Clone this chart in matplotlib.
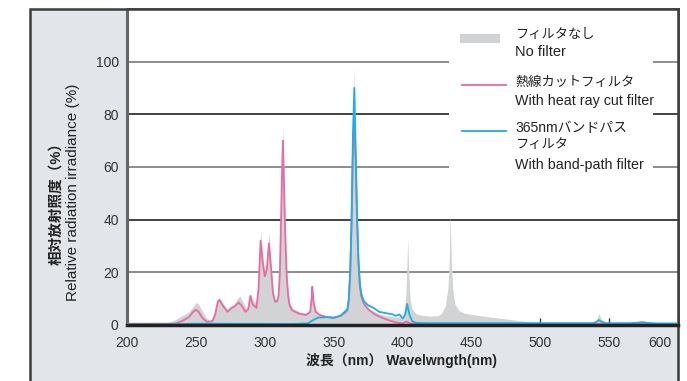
import matplotlib.pyplot as plt
import matplotlib.transforms as mtransforms
from matplotlib.patches import Rectangle

plt.rcParams['font.family'] = ['Liberation Sans', 'Noto Sans CJK JP']

# no filter (grey area)
wl_nf = [200, 215, 230, 235, 240, 245, 248, 250, 252, 255, 258, 260, 263, 265, 267, 270,
         273, 275, 278, 280, 282, 285, 287, 289, 290, 292, 294, 295.5, 297, 298.5, 300, 301.5,
         303, 304.5, 306, 307.5, 309, 310, 311, 312, 312.5, 313.2, 314, 315, 316, 317, 318, 320,
         325, 330, 333, 334, 334.5, 335.5, 337, 340, 345, 350, 355, 358, 360, 361, 362, 363,
         364, 365, 366, 367, 368, 369, 370, 371, 373, 376, 380, 383, 390, 395, 400, 401.5,
         402.5, 403.2, 403.8, 404.5, 405.5, 407, 410, 415, 420, 425, 428, 431, 433, 434, 434.6, 435.5,
         436.5, 438, 441, 445, 450, 460, 470, 480, 490, 500, 520, 538, 541, 542.5, 544, 547,
         555, 572, 575, 580, 600]
nf = [0.3, 0.3, 1.0, 2.0, 3.5, 5.0, 7.0, 8.5, 8.0, 5.0, 2.5, 1.5, 3.0, 8.0, 10.5, 8.0,
      6.0, 7.0, 8.0, 10.0, 11.0, 8.0, 6.0, 10.0, 12.0, 9.0, 8.5, 16.0, 36.0, 26.0, 20.0, 24.0,
      35.0, 24.0, 13.0, 9.5, 10.0, 12.0, 22.0, 48.0, 62.0, 76.0, 58.0, 35.0, 20.0, 13.0, 9.0, 6.5,
      5.0, 4.5, 5.5, 10.0, 15.0, 9.0, 5.5, 4.0, 3.0, 2.7, 3.5, 5.0, 7.0, 12.0, 22.0, 42.0,
      72.0, 98.0, 72.0, 45.0, 26.0, 17.0, 13.0, 10.5, 8.0, 6.0, 5.0, 4.2, 3.4, 3.0, 3.2, 6.0,
      12.0, 22.0, 33.0, 20.0, 10.0, 6.0, 4.2, 3.6, 3.4, 3.5, 4.2, 7.0, 14.0, 25.0, 43.0, 24.0,
      14.0, 8.0, 5.5, 4.5, 4.0, 3.3, 2.6, 2.0, 1.3, 0.7, 0.5, 0.6, 2.0, 4.4, 2.5, 1.0,
      0.6, 0.6, 1.0, 0.8, 0.5]

# heat ray cut filter (pink)
wl_hc = [200, 235, 240, 245, 248, 250, 252, 255, 258, 262, 264, 266, 267, 270, 273, 276,
         278, 281, 283, 286, 288, 289.5, 291, 293, 294, 295.5, 297, 298.5, 300, 301.5, 303, 304.5,
         306, 307.5, 309, 310, 311, 312, 312.5, 313.2, 314, 315, 316, 317, 318, 320, 325, 330,
         333, 334, 334.5, 335.5, 337, 340, 345, 350, 355, 358, 360, 361, 362, 363, 364, 365,
         366, 367, 368, 369, 370, 372, 375, 380, 385, 390, 395, 400, 403, 405, 410, 600]
hc = [0.5, 0.5, 1.5, 3.0, 5.0, 5.8, 5.0, 2.5, 1.2, 1.5, 4.0, 9.0, 9.5, 7.0, 5.0, 6.5,
      7.0, 8.5, 7.5, 5.0, 6.0, 11.0, 8.0, 7.0, 6.5, 14.0, 32.0, 24.0, 18.5, 21.0, 31.0, 22.0,
      12.0, 8.8, 9.0, 11.0, 20.0, 44.0, 57.0, 70.0, 53.0, 32.0, 18.0, 11.0, 7.6, 5.5, 4.3, 3.8,
      5.0, 10.0, 14.5, 8.5, 5.0, 3.8, 3.0, 2.7, 3.5, 4.5, 5.5, 9.0, 19.0, 37.0, 65.0, 79.0,
      62.0, 40.0, 24.0, 15.0, 11.0, 8.0, 6.0, 4.0, 2.8, 1.8, 1.0, 0.6, 1.3, 0.7, 0.4, 0.4]

# 365nm band-pass filter (blue)
wl_bp = [200, 235, 250, 320, 331, 335, 338.5, 345, 350, 355, 357, 360, 361, 362, 363, 364,
         365, 366, 367, 368, 369, 370, 372, 375, 379, 383, 388, 393, 395, 397.8, 400.2, 402,
         403.4, 405, 407, 410, 420, 538, 541, 542.5, 544.5, 548, 565, 571, 574, 578, 585, 600]
bp = [0.2, 0.3, 0.5, 0.4, 0.6, 1.8, 2.8, 3.0, 2.8, 3.5, 4.5, 6.0, 10.0, 20.0, 40.0, 72.0,
      90.0, 66.0, 42.0, 25.0, 16.0, 12.0, 9.0, 7.5, 6.5, 5.0, 4.5, 4.0, 3.5, 4.0, 2.5, 4.0,
      8.0, 4.0, 1.5, 0.8, 0.7, 0.7, 1.2, 1.9, 1.2, 0.7, 0.7, 0.9, 1.1, 0.8, 0.6, 0.6]

x_ticks = [200, 250, 300, 350, 400, 450, 500, 550, 600]
y_ticks = [0, 20, 40, 60, 80, 100]

W, H = 687, 381
fig = plt.figure(figsize=(W / 100, H / 100), dpi=100)
fig.patch.set_facecolor('white')

# grey panel behind the chart
panel = Rectangle((30 / W, -0.1), (678 - 30) / W, 1.1 - 9 / H, transform=fig.transFigure,
                  facecolor='#e2e6eb', edgecolor='#3c3c3c', lw=1.8, zorder=-10)
fig.patches.append(panel)

ax = fig.add_axes([127 / W, 1 - 325 / H, (678 - 127) / W, (325 - 9) / H])
ax.set_facecolor('white')

grid_cols = {20: '#7a7a7a', 40: '#222222', 60: '#7a7a7a', 80: '#222222', 100: '#7a7a7a'}
for yv, c in grid_cols.items():
    ax.axhline(yv, color=c, lw=1.2, zorder=1)

ax.fill_between(wl_nf, nf, color='#d1d3d4', lw=0, zorder=2)
ax.plot(wl_hc, hc, color='#ea6aa2', lw=1.3, zorder=3)
ax.plot(wl_bp, bp, color='#1ab0e6', lw=1.3, zorder=4)

ax.set_xlim(200, 600)
ax.set_ylim(0, 120)
ax.set_xticks(x_ticks)
ax.set_yticks(y_ticks)
ax.tick_params(axis='x', direction='in', length=5, width=1, color='#333333',
               labelsize=10, labelcolor='#333333', pad=8)
ax.tick_params(axis='y', length=0, labelsize=10, labelcolor='#333333', pad=6)
last = ax.get_xticklabels()[-1]
last.set_transform(last.get_transform() +
                   mtransforms.ScaledTranslation(-0.18, 0, fig.dpi_scale_trans))

for s in ['top', 'right']:
    ax.spines[s].set_color('#3c3c3c')
    ax.spines[s].set_linewidth(1.8)
ax.spines['left'].set_color('#666666')
ax.spines['left'].set_linewidth(2.2)
ax.spines['bottom'].set_color('#222222')
ax.spines['bottom'].set_linewidth(2.5)
ax.spines['bottom'].set_zorder(6)

# legend block
def ax_pt(px, py):
    return ((px - 127) / (678 - 127), (325 - py) / (325 - 9))

x0, y0 = ax_pt(449, 176)
x1, y1 = ax_pt(653, 18)
ax.add_patch(Rectangle((x0, y0), x1 - x0, y1 - y0, transform=ax.transAxes,
                       facecolor='white', edgecolor='none', zorder=5))
px, py = ax_pt(460, 43)
pw, ph = ax_pt(500, 34)
ax.add_patch(Rectangle((px, py), pw - px, ph - py, transform=ax.transAxes,
                       facecolor='#d1d3d4', edgecolor='none', zorder=6))
for yy, col in [(85, '#ea6aa2'), (131, '#1ab0e6')]:
    a, b = ax_pt(462, yy)
    c, _ = ax_pt(506, yy)
    ax.plot([a, c], [b, b], transform=ax.transAxes, color=col, lw=1.3, zorder=6)

legend_lines = [(35, 'フィルタなし', 9.5), (52, 'No filter', 10.5),
                (83, '熱線カットフィルタ', 9.5), (101, 'With heat ray cut filter', 10.3),
                (128, '365nmバンドパス', 10), (145, 'フィルタ', 9.5),
                (165, 'With band-path filter', 10.3)]
for yy, t, fs in legend_lines:
    a, b = ax_pt(515, yy)
    ax.text(a, b, t, transform=ax.transAxes, fontsize=fs, color='#222222',
            ha='left', va='center', zorder=7)

fig.text(56 / W, 1 - 200 / H, '相対放射照度（%）', rotation=90, fontsize=10.5,
         ha='center', va='center', color='#222222', fontweight='bold')
fig.text(73 / W, 1 - 192 / H, 'Relative radiation irradiance (%)', rotation=90,
         fontsize=11, ha='center', va='center', color='#222222')
fig.text(402 / W, 1 - 361 / H, '波長（nm） Wavelwngth(nm)', fontsize=10,
         ha='center', va='center', color='#222222', fontweight='bold')

fig.savefig('out.png', dpi=100)
